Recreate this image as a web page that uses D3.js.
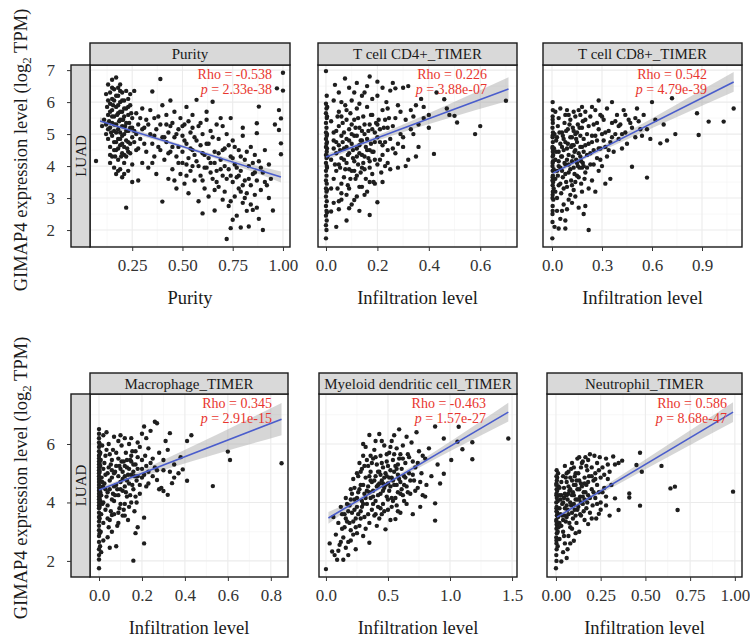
<!DOCTYPE html>
<html>
<head>
<meta charset="utf-8">
<script src="https://cdn.jsdelivr.net/npm/d3@7"></script>
<style>
body { margin: 0; background: #fff; }
svg { font-family: "Liberation Serif", "Times New Roman", serif; }
</style>
</head>
<body>
<div class="canvas"></div>
<script>
// ---- data ----
const panelNames = ['Purity', 'T cell CD4+_TIMER', 'T cell CD8+_TIMER',
                    'Macrophage_TIMER', 'Myeloid dendritic cell_TIMER', 'Neutrophil_TIMER'];
const rhoLabels = ['Rho = -0.538', 'Rho = 0.226', 'Rho = 0.542',
                   'Rho = 0.345', 'Rho = -0.463', 'Rho = 0.586'];
const pLabels = ['2.33e-38', '3.88e-07', '4.79e-39', '2.91e-15', '1.57e-27', '8.68e-47'];
const xTitles = ['Purity', 'Infiltration level', 'Infiltration level',
                 'Infiltration level', 'Infiltration level', 'Infiltration level'];
const xTicks = [[0.25, 0.5, 0.75, 1.0], [0, 0.2, 0.4, 0.6], [0, 0.3, 0.6, 0.9],
                [0, 0.2, 0.4, 0.6, 0.8], [0, 0.5, 1.0, 1.5], [0, 0.25, 0.5, 0.75, 1.0]];
const xTickFormats = ['.2f', '.1f', '.1f', '.1f', '.1f', '.2f'];
const xLimits = [[0.04, 1.035], [-0.031, 0.743], [-0.054, 1.14],
                 [-0.042, 0.88], [-0.056, 1.54], [-0.05, 1.04]];
const yTicksTop = [2, 3, 4, 5, 6, 7];
const yTicksBottom = [2, 4, 6];
const yLimitsTop = [1.47, 7.16];
const yLimitsBottom = [1.45, 7.71];
const cancerType = 'LUAD';

// fitted line ends and confidence band half widths
const fitX = [[0.09, 0.99], [0, 0.71], [0.006, 1.09], [0, 0.85], [0.02, 1.47], [0.006, 0.99]];
const fitY = [[5.41, 3.66], [4.28, 6.41], [3.78, 6.63], [4.43, 6.85], [3.47, 7.09], [3.5, 7.09]];
const bandX = [[0.09, 0.3, 0.5, 0.75, 0.99], [0, 0.1, 0.25, 0.45, 0.71], [0.006, 0.15, 0.4, 0.75, 1.09],
               [0, 0.08, 0.3, 0.55, 0.85], [0.02, 0.3, 0.48, 0.9, 1.47], [0.006, 0.1, 0.35, 0.65, 0.99]];
const bandHalf = [[0.12, 0.07, 0.05, 0.08, 0.17], [0.1, 0.07, 0.1, 0.2, 0.37], [0.08, 0.06, 0.1, 0.2, 0.31],
                  [0.08, 0.07, 0.17, 0.33, 0.55], [0.2, 0.08, 0.07, 0.14, 0.32], [0.08, 0.06, 0.12, 0.22, 0.34]];

const purityPts = [
[0.07,4.16],[0.10,5.25],[0.11,5.45],[0.12,6.25],[0.12,5.0],[0.13,6.55],[0.13,5.6],[0.13,4.85],[0.14,6.3],[0.14,5.95],
[0.14,5.2],[0.14,4.6],[0.15,6.7],[0.15,6.1],[0.15,5.75],[0.15,5.35],[0.15,4.95],[0.15,4.3],[0.16,6.4],[0.16,5.55],
[0.16,5.1],[0.16,4.75],[0.16,3.95],[0.17,6.77],[0.17,6.2],[0.17,5.85],[0.17,5.3],[0.17,4.5],[0.17,3.75],[0.18,6.45],
[0.18,5.65],[0.18,5.15],[0.18,4.85],[0.18,4.2],[0.19,6.55],[0.19,6.0],[0.19,5.45],[0.19,5.05],[0.19,4.65],[0.19,3.9],
[0.20,6.3],[0.20,5.7],[0.20,5.25],[0.20,4.95],[0.20,4.4],[0.20,3.65],[0.21,6.05],[0.21,5.55],[0.21,5.0],[0.21,4.6],
[0.21,4.1],[0.22,6.35],[0.22,5.8],[0.22,5.35],[0.22,4.8],[0.22,2.7],[0.23,6.1],[0.23,5.6],[0.23,5.1],[0.23,4.45],
[0.23,3.85],[0.24,5.9],[0.24,5.2],[0.24,4.7],[0.25,5.5],[0.25,4.05],[0.25,3.5],[0.125,5.85],[0.135,5.4],[0.145,5.05],
[0.155,5.9],[0.165,4.3],[0.175,5.6],[0.185,5.4],[0.195,4.3],[0.205,5.45],[0.215,5.25],[0.225,4.55],[0.235,5.35],[0.245,5.65],
[0.18,3.85],[0.21,3.75],[0.14,4.1],[0.26,6.35],[0.26,5.1],[0.27,5.65],[0.27,4.5],[0.28,3.55],[0.28,5.3],[0.29,4.85],
[0.30,5.8],[0.30,4.1],[0.31,5.2],[0.32,5.45],[0.32,4.45],[0.33,3.95],[0.34,5.0],[0.34,5.75],[0.35,6.33],[0.35,4.7],
[0.36,4.3],[0.36,5.5],[0.37,3.75],[0.37,5.15],[0.38,4.6],[0.39,6.72],[0.39,5.3],[0.40,2.89],[0.40,4.9],[0.40,5.9],
[0.41,4.2],[0.42,5.6],[0.42,4.75],[0.43,3.6],[0.43,5.05],[0.44,6.05],[0.44,4.45],[0.45,5.35],[0.45,3.9],[0.46,4.9],
[0.46,5.7],[0.47,4.3],[0.47,3.3],[0.48,5.15],[0.48,4.6],[0.49,5.5],[0.49,3.75],[0.50,4.95],[0.50,4.1],[0.51,5.3],
[0.51,3.45],[0.52,4.7],[0.52,5.85],[0.53,4.25],[0.53,3.15],[0.54,5.05],[0.54,3.85],[0.55,4.5],[0.55,5.6],[0.56,3.55],
[0.56,4.9],[0.57,6.07],[0.57,4.15],[0.58,2.9],[0.58,5.25],[0.59,4.65],[0.59,3.7],[0.60,2.52],[0.60,5.0],[0.61,4.35],
[0.61,3.3],[0.62,5.45],[0.62,3.95],[0.63,4.7],[0.63,3.05],[0.64,5.1],[0.64,4.1],[0.65,6.01],[0.65,3.6],[0.66,2.61],
[0.66,4.45],[0.67,5.3],[0.67,3.85],[0.68,4.85],[0.68,3.35],[0.69,4.2],[0.69,5.5],[0.70,3.7],[0.70,2.95],[0.71,4.55],
[0.71,3.2],[0.72,1.72],[0.72,5.0],[0.73,3.9],[0.73,2.75],[0.74,2.06],[0.74,4.3],[0.75,2.32],[0.75,3.5],[0.75,4.8],
[0.76,3.05],[0.76,4.05],[0.77,2.45],[0.77,3.65],[0.78,4.5],[0.78,3.3],[0.79,2.08],[0.79,3.85],[0.80,4.95],[0.80,2.85],
[0.81,3.55],[0.81,4.2],[0.82,2.6],[0.82,3.15],[0.83,2.11],[0.83,4.0],[0.84,3.4],[0.84,4.6],[0.85,2.63],[0.85,3.75],
[0.86,3.1],[0.86,4.35],[0.87,5.34],[0.87,5.03],[0.87,3.55],[0.88,5.86],[0.88,2.35],[0.88,4.15],[0.89,3.25],[0.90,2.0],
[0.90,3.8],[0.91,4.5],[0.92,3.4],[0.93,4.05],[0.94,3.6],[0.95,2.61],[0.96,5.3],[0.97,6.43],[0.98,5.75],[0.98,5.13],
[0.99,5.49],[0.99,4.71],[0.99,4.37],[1.0,6.92],[1.0,6.36],
[0.12,5.3],[0.13,5.15],[0.13,6.05],[0.14,5.7],[0.14,4.35],[0.15,5.55],[0.15,6.45],[0.16,5.3],[0.16,6.05],[0.16,4.5],
[0.17,5.05],[0.17,4.75],[0.18,6.2],[0.18,5.9],[0.18,4.55],[0.19,5.7],[0.19,4.85],[0.19,6.35],[0.2,6.05],[0.2,4.7],
[0.2,5.45],[0.21,5.8],[0.21,4.35],[0.22,5.1],[0.22,4.3],[0.23,5.85],[0.23,4.75],[0.24,4.4],[0.24,6.25],[0.25,4.9],
[0.25,5.2],[0.26,4.75],[0.27,5.0],[0.28,4.55],[0.29,5.5],[0.31,4.7],[0.33,5.3],[0.36,4.95],[0.38,5.55],[0.41,4.9],
[0.43,4.4],[0.44,5.25],[0.45,4.6],[0.47,5.0],[0.48,4.1],[0.5,5.25],[0.5,4.45],[0.51,4.8],[0.52,4.05],[0.53,5.4],
[0.54,4.55],[0.55,4.0],[0.56,4.35],[0.57,4.8],[0.58,4.0],[0.59,5.35],[0.6,4.4],[0.61,3.95],[0.62,4.7],[0.63,4.25],
[0.64,3.8],[0.65,4.9],[0.66,4.1],[0.67,3.5],[0.68,4.4],[0.69,3.9],[0.7,4.5],[0.71,4.0],[0.72,3.6],[0.73,4.65],
[0.74,3.7],[0.75,4.25],[0.76,4.6],[0.77,3.95],[0.78,3.7],[0.79,4.3],[0.8,3.4],[0.81,3.0],[0.82,4.45],[0.83,3.6],
[0.84,2.8],[0.85,4.1],[0.86,3.8],[0.87,2.7],[0.89,3.95],[0.91,3.5],[0.93,3.0],[0.46,3.55],[0.52,3.7],[0.6,3.55],
[0.66,3.25],[0.74,2.9],[0.79,3.2],[0.35,4.1],[0.39,4.5],[0.3,5.15],[0.42,5.3],[0.55,5.2],[0.62,5.7],[0.7,5.25],
[0.74,5.5],[0.8,5.2]
];

const cd4Pts = [
[0,6.97],[0.003,6.2],[0,5.95],[0.002,5.8],[0,5.65],[0.003,5.5],[0,5.35],[0.002,5.2],[0,5.05],[0.003,4.95],
[0,4.85],[0.002,4.7],[0,4.6],[0.003,4.45],[0,4.35],[0.002,4.25],[0,4.1],[0.003,4.0],[0,3.85],[0.002,3.7],
[0,3.55],[0.003,3.45],[0,3.3],[0.002,3.2],[0,3.05],[0.003,2.9],[0,2.75],[0.002,2.6],[0,2.45],[0.003,2.3],
[0,2.15],[0.002,2.0],[0,1.74],[0.004,5.0],[0.004,4.55],
[0.02,4.2],[0.02,5.4],[0.02,2.58],[0.03,3.6],[0.03,4.8],[0.03,6.05],[0.035,6.54],[0.04,2.1],[0.04,4.4],[0.04,5.1],
[0.045,3.3],[0.05,2.65],[0.05,4.65],[0.05,5.7],[0.055,3.95],[0.06,4.95],[0.06,4.25],[0.065,5.35],[0.07,3.65],[0.07,4.55],
[0.074,6.74],[0.075,5.9],[0.08,4.1],[0.08,4.85],[0.085,3.4],[0.09,2.68],[0.09,5.15],[0.09,4.4],[0.095,5.65],[0.10,4.7],
[0.10,3.85],[0.10,6.05],[0.105,4.25],[0.11,2.94],[0.11,5.45],[0.11,4.95],[0.115,3.6],[0.12,4.55],[0.12,5.8],[0.125,4.05],
[0.13,5.2],[0.13,3.35],[0.135,4.8],[0.14,6.2],[0.14,4.35],[0.145,5.55],[0.15,3.9],[0.15,5.0],[0.155,4.6],[0.16,5.85],
[0.16,3.2],[0.165,4.25],[0.17,6.8],[0.17,2.47],[0.17,5.3],[0.175,4.7],[0.18,3.75],[0.18,5.6],[0.185,4.45],[0.19,5.05],
[0.19,3.45],[0.2,6.64],[0.2,2.87],[0.2,4.9],[0.205,5.45],[0.21,4.2],[0.215,3.8],[0.22,5.75],[0.22,4.65],[0.225,5.2],
[0.23,4.0],[0.235,6.0],[0.24,4.5],[0.245,5.5],[0.25,6.36],[0.25,4.85],[0.26,5.25],[0.27,6.43],[0.27,4.4],[0.28,5.9],
[0.28,3.95],[0.29,5.0],[0.3,6.45],[0.3,4.6],[0.31,5.45],[0.32,4.2],[0.33,5.75],[0.34,5.0],[0.35,4.3],[0.35,5.9],
[0.36,5.3],[0.37,6.1],[0.38,5.5],[0.4,5.2],[0.42,4.38],[0.43,6.3],[0.46,6.09],[0.47,5.8],[0.48,5.6],[0.5,5.57],
[0.51,5.36],[0.58,5.0],[0.6,5.25],[0.7,6.04],
[0.03,4.55],[0.04,3.85],[0.05,5.25],[0.06,3.45],[0.07,5.05],[0.08,4.6],[0.08,3.1],[0.09,3.9],[0.1,5.3],[0.11,4.15],
[0.12,3.7],[0.12,4.95],[0.13,4.4],[0.14,3.95],[0.14,5.1],[0.15,4.3],[0.16,4.85],[0.17,3.95],[0.17,4.5],[0.18,5.15],
[0.19,4.2],[0.2,5.3],[0.21,4.75],[0.22,3.5],[0.23,5.45],[0.24,4.1],[0.06,2.95],[0.1,2.8],[0.13,2.6],[0.15,3.1],
[0.02,3.3],[0.05,6.3],[0.09,6.45],[0.12,6.6],[0.15,6.3],[0.18,6.1],[0.22,6.45],[0.26,6.6],[0.32,6.5],
[0.004,3.95],[0.004,4.75],[0.004,5.55],[0.004,3.25],[0.004,2.55],[0.005,5.85],[0.006,4.3],
[0.03,5.05],[0.035,4.05],[0.04,4.75],[0.045,5.55],[0.05,4.05],[0.055,4.5],[0.06,5.55],[0.065,4.75],[0.07,4.2],[0.075,3.9],
[0.08,5.45],[0.085,4.35],[0.09,4.8],[0.095,3.6],[0.1,5.0],[0.105,4.5],[0.11,3.85],[0.115,5.2],[0.12,4.3],[0.125,5.5],
[0.13,4.65],[0.135,3.8],[0.14,4.8],[0.145,4.1],[0.15,5.3],[0.155,3.6],[0.16,4.5],[0.165,5.1],[0.17,4.15],[0.175,5.6],
[0.18,4.45],[0.185,3.5],[0.19,4.75],[0.195,5.35],[0.2,4.05],[0.21,5.15],[0.22,4.35],[0.23,4.75],[0.24,5.2],[0.25,3.9],
[0.26,4.55],[0.27,5.5],[0.28,4.7],[0.29,5.7],[0.3,4.9],[0.31,4.0],[0.33,5.15],[0.34,5.55],[0.36,4.6],[0.38,5.85],
[0.4,5.6],[0.06,6.0],[0.08,5.75],[0.11,6.3],[0.13,5.95],[0.16,6.5],[0.2,6.2],[0.24,5.8],[0.06,3.15],[0.09,3.3],
[0.12,3.05],[0.14,3.35],[0.17,3.5],[0.05,2.9],[0.08,2.3],[0.03,2.85]
];

const cd8Pts = [
[0.002,1.74],[0.003,2.25],[0.003,2.5],[0.004,2.75],[0.003,3.0],[0.005,3.2],[0.004,3.4],[0.003,3.55],[0.005,3.7],[0.004,3.85],
[0.003,4.0],[0.006,4.15],[0.004,4.3],[0.005,4.45],[0.003,4.6],[0.005,4.75],[0.004,4.9],[0.006,5.05],[0.003,5.2],[0.005,5.35],
[0.004,5.55],[0.005,5.75],[0.004,6.0],[0.008,2.95],[0.01,3.3],[0.01,3.9],[0.012,4.55],[0.015,2.1],[0.015,5.0],
[0.02,3.6],[0.02,4.2],[0.025,4.8],[0.03,2.6],[0.03,3.85],[0.035,5.25],[0.04,2.05],[0.04,3.4],[0.04,4.45],[0.04,5.5],
[0.05,3.95],[0.05,4.7],[0.055,3.15],[0.06,5.05],[0.06,4.3],[0.065,3.65],[0.07,2.8],[0.07,4.85],[0.075,5.35],[0.08,2.3],
[0.08,4.05],[0.08,5.6],[0.085,3.5],[0.09,4.55],[0.095,5.15],[0.1,3.8],[0.1,4.35],[0.1,2.95],[0.11,4.9],[0.11,5.45],
[0.115,3.55],[0.12,4.15],[0.12,4.65],[0.125,5.2],[0.13,3.25],[0.13,3.95],[0.135,4.45],[0.14,5.0],[0.14,5.55],[0.145,4.2],
[0.15,3.7],[0.15,4.75],[0.155,5.3],[0.16,2.7],[0.16,4.4],[0.165,3.95],[0.17,4.95],[0.17,5.6],[0.175,3.45],[0.18,4.6],
[0.18,5.2],[0.185,4.1],[0.19,2.5],[0.19,4.85],[0.2,2.75],[0.2,3.8],[0.2,5.45],[0.21,4.35],[0.21,5.0],[0.22,2.0],
[0.22,3.3],[0.22,4.7],[0.23,5.55],[0.23,4.05],[0.24,3.55],[0.24,4.95],[0.25,5.3],[0.25,4.5],[0.26,3.2],[0.26,5.75],
[0.27,4.25],[0.27,4.8],[0.28,5.15],[0.28,3.85],[0.29,5.6],[0.29,4.55],[0.3,4.0],[0.3,5.0],[0.31,5.45],[0.32,4.6],
[0.32,3.45],[0.33,5.8],[0.33,4.3],[0.34,5.1],[0.35,4.75],[0.35,3.6],[0.36,6.0],[0.36,5.35],[0.37,4.45],[0.38,5.0],
[0.39,5.6],[0.4,4.85],[0.41,5.3],[0.42,4.55],[0.43,5.75],[0.44,5.05],[0.45,4.7],[0.46,5.45],[0.48,3.98],[0.48,5.2],
[0.5,4.9],[0.51,5.8],[0.52,5.4],[0.54,4.95],[0.55,5.6],[0.57,3.64],[0.57,5.15],[0.59,4.85],[0.6,6.0],[0.62,5.45],
[0.65,4.71],[0.67,5.3],[0.69,4.8],[0.72,6.12],[0.74,5.0],[0.87,5.65],[0.88,4.97],[0.94,5.39],[1.03,5.39],[1.09,5.8],
[0.06,4.6],[0.09,4.2],[0.12,4.9],[0.15,4.1],[0.17,4.3],[0.04,4.0],[0.07,3.3],[0.11,3.1],[0.13,4.65],[0.19,4.0],
[0.08,4.75],[0.14,3.5],[0.02,5.7],[0.05,5.8],[0.09,5.75],[0.18,5.85],[0.24,5.85],[0.28,6.05],[0.05,2.35],[0.08,2.05],
[0.004,3.1],[0.004,3.65],[0.004,4.1],[0.004,4.55],[0.004,4.95],[0.004,5.45],[0.004,2.6],[0.007,3.5],[0.007,4.35],
[0.02,3.2],[0.025,4.45],[0.03,4.9],[0.035,3.7],[0.04,4.15],[0.045,5.05],[0.05,3.45],[0.055,4.3],[0.06,3.85],[0.065,4.95],
[0.07,4.5],[0.075,4.1],[0.08,3.75],[0.085,5.1],[0.09,3.35],[0.095,4.7],[0.1,4.05],[0.105,5.3],[0.11,3.9],[0.115,4.6],
[0.12,3.4],[0.125,4.3],[0.13,5.1],[0.135,3.75],[0.14,4.5],[0.145,4.85],[0.15,5.05],[0.155,4.0],[0.16,3.65],[0.165,5.2],
[0.17,4.6],[0.175,4.15],[0.18,3.95],[0.185,5.4],[0.19,4.45],[0.195,3.6],[0.2,4.65],[0.21,3.95],[0.22,5.25],[0.23,4.4],
[0.24,4.75],[0.25,4.05],[0.26,4.95],[0.27,5.35],[0.28,4.55],[0.29,4.2],[0.3,5.55],[0.31,4.8],[0.32,5.05],[0.34,4.5],
[0.36,4.9],[0.38,5.4],[0.4,5.25],[0.42,5.0],[0.44,5.6],[0.47,5.35],[0.5,5.5],[0.53,5.15],[0.03,3.0],[0.06,2.6],
[0.09,2.65],[0.12,2.85],[0.14,3.05],[0.18,3.2],[0.1,5.6],[0.13,5.7],[0.16,5.75],[0.2,5.7]
];

const macroPts = [
[0,1.75],[0,2.05],[0,2.2],[0,2.4],[0,2.65],[0,2.85],[0,3.05],[0,3.2],[0,3.35],[0,3.5],
[0,3.65],[0,3.8],[0,3.9],[0,4.0],[0,4.1],[0,4.2],[0,4.3],[0,4.4],[0,4.5],[0,4.6],
[0,4.7],[0,4.8],[0,4.9],[0,5.0],[0,5.1],[0,5.2],[0,5.3],[0,5.4],[0,5.5],[0,5.6],
[0,5.75],[0,5.9],[0,6.05],[0,6.2],[0,6.35],[0,6.51],
[0.005,2.5],[0.008,3.0],[0.01,3.6],[0.01,4.25],[0.012,4.85],[0.008,5.45],[0.015,5.95],[0.01,2.3],[0.015,3.95],[0.018,4.55],
[0.02,5.15],[0.02,3.3],[0.006,5.7],[0.006,4.05],
[0.025,4.65],[0.03,3.75],[0.03,5.6],[0.035,4.2],[0.04,2.81],[0.04,5.0],[0.045,6.0],[0.05,4.45],[0.05,3.4],[0.055,5.3],
[0.06,3.57],[0.06,4.85],[0.065,5.8],[0.07,4.05],[0.07,6.25],[0.075,5.05],[0.08,2.5],[0.08,4.6],[0.085,3.2],[0.09,5.5],
[0.09,4.25],[0.095,3.8],[0.1,5.15],[0.1,4.7],[0.105,5.95],[0.11,3.55],[0.11,4.4],[0.115,5.4],[0.12,4.9],[0.12,3.95],
[0.125,5.7],[0.13,4.2],[0.13,5.2],[0.135,3.4],[0.14,4.65],[0.14,6.0],[0.145,5.45],[0.15,4.0],[0.15,4.95],[0.155,5.75],
[0.16,2.01],[0.16,4.45],[0.165,3.7],[0.17,2.95],[0.17,5.3],[0.175,4.75],[0.18,5.55],[0.18,3.15],[0.19,4.3],[0.19,5.9],
[0.2,4.85],[0.2,5.15],[0.21,2.6],[0.21,3.48],[0.21,6.6],[0.215,5.6],[0.22,4.55],[0.22,6.2],[0.23,5.05],[0.24,6.45],
[0.24,5.35],[0.25,4.9],[0.26,6.76],[0.26,5.2],[0.27,6.71],[0.27,4.77],[0.28,5.7],[0.29,4.5],[0.3,4.39],[0.3,5.45],
[0.31,6.1],[0.32,4.26],[0.32,5.8],[0.33,6.37],[0.34,4.66],[0.35,5.3],[0.37,5.0],[0.38,5.55],[0.39,5.13],[0.41,4.74],
[0.41,6.1],[0.43,6.3],[0.53,4.56],[0.6,5.74],[0.61,5.45],[0.85,5.34],
[0.03,4.95],[0.04,4.35],[0.05,5.65],[0.06,4.1],[0.07,4.55],[0.08,5.25],[0.09,4.9],[0.1,3.95],[0.11,5.05],[0.12,4.55],
[0.13,4.75],[0.14,5.15],[0.15,5.4],[0.16,5.05],[0.17,4.2],[0.18,4.9],[0.06,5.1],[0.045,3.15],[0.07,3.6],[0.12,6.2],
[0.02,6.3],[0.035,6.4],[0.09,6.1],
[0.003,2.95],[0.003,3.45],[0.003,3.85],[0.003,4.15],[0.003,4.45],[0.003,4.75],[0.003,5.05],[0.003,5.35],[0.003,5.65],[0.003,6.0],
[0.006,4.35],[0.006,5.25],
[0.015,4.7],[0.02,4.0],[0.025,5.35],[0.03,4.45],[0.035,5.8],[0.04,3.9],[0.045,5.2],[0.05,4.75],[0.055,3.7],[0.06,5.45],
[0.065,4.3],[0.07,5.0],[0.075,4.25],[0.08,5.7],[0.085,4.45],[0.09,3.65],[0.095,5.25],[0.1,4.45],[0.105,5.4],[0.11,4.8],
[0.115,3.75],[0.12,5.25],[0.125,4.35],[0.13,5.45],[0.135,4.95],[0.14,3.85],[0.145,4.25],[0.15,5.6],[0.155,4.6],[0.16,5.3],
[0.165,4.9],[0.17,5.75],[0.175,4.0],[0.18,5.15],[0.19,4.6],[0.2,5.45],[0.21,4.95],[0.22,5.25],[0.23,4.65],[0.25,5.5],
[0.27,5.1],[0.28,4.45],[0.3,5.1],[0.33,5.05],[0.35,4.85],[0.04,3.45],[0.06,3.0],[0.09,3.3],[0.12,3.55],[0.02,2.7],
[0.05,2.45],[0.1,6.3],[0.15,6.2],[0.18,6.05],[0.2,6.35],[0.23,5.85]
];

const mdcPts = [
[0.0,1.72],[0.03,2.6],[0.05,2.32],[0.09,2.04],[0.14,2.04],[0.18,2.2],[0.24,2.4],[0.35,2.62],[0.06,3.5],[0.08,2.9],
[0.1,3.3],[0.11,2.55],[0.12,3.85],[0.13,3.1],[0.14,2.8],[0.15,3.6],[0.16,4.15],[0.17,3.35],[0.18,2.65],[0.19,3.9],
[0.2,4.45],[0.2,3.05],[0.21,3.65],[0.22,4.8],[0.22,2.9],[0.23,4.1],[0.24,3.45],[0.25,5.0],[0.25,3.85],[0.26,4.35],
[0.27,3.2],[0.27,5.35],[0.28,4.6],[0.28,3.7],[0.29,4.05],[0.3,5.6],[0.3,2.85],[0.31,4.3],[0.31,3.5],[0.32,4.85],
[0.32,5.9],[0.33,3.95],[0.34,4.55],[0.34,5.25],[0.35,6.31],[0.35,3.3],[0.36,4.15],[0.36,5.05],[0.37,3.75],[0.37,4.7],
[0.38,5.5],[0.38,4.4],[0.39,3.55],[0.39,5.8],[0.4,4.9],[0.4,4.05],[0.41,3.2],[0.41,5.3],[0.42,4.6],[0.42,3.85],
[0.43,6.34],[0.43,5.05],[0.44,4.3],[0.44,5.6],[0.45,3.6],[0.45,4.75],[0.46,5.2],[0.46,3.95],[0.47,4.5],[0.47,5.95],
[0.48,3.08],[0.48,5.0],[0.49,4.2],[0.49,5.4],[0.5,4.65],[0.5,3.75],[0.51,5.7],[0.51,4.4],[0.52,5.1],[0.52,3.4],
[0.53,4.85],[0.53,6.1],[0.54,4.05],[0.54,5.45],[0.55,4.6],[0.56,3.43],[0.56,5.25],[0.57,3.9],[0.57,5.85],[0.58,4.35],
[0.58,4.95],[0.59,6.5],[0.59,5.5],[0.6,4.7],[0.6,3.65],[0.61,5.15],[0.62,4.25],[0.62,5.95],[0.63,4.9],[0.64,5.35],
[0.65,3.95],[0.65,4.55],[0.66,5.65],[0.67,5.0],[0.68,4.3],[0.69,6.05],[0.7,5.4],[0.7,3.6],[0.71,4.75],[0.72,5.2],
[0.73,6.4],[0.74,4.5],[0.75,5.75],[0.76,3.85],[0.77,5.0],[0.78,4.25],[0.8,5.5],[0.81,4.6],[0.83,5.85],[0.85,4.9],
[0.88,6.6],[0.88,3.38],[0.88,3.97],[0.9,5.3],[0.92,4.65],[0.95,6.19],[0.95,4.98],[1.01,5.45],[1.06,6.08],[1.07,6.59],
[1.1,5.82],[1.18,5.48],[1.18,6.06],[1.47,6.19],
[0.26,4.9],[0.29,5.15],[0.3,3.95],[0.33,4.4],[0.35,4.9],[0.36,5.6],[0.38,3.95],[0.4,5.55],[0.42,4.25],[0.43,4.65],
[0.44,3.8],[0.46,4.4],[0.47,4.85],[0.49,4.9],[0.5,5.25],[0.52,4.55],[0.53,4.15],[0.55,5.05],[0.57,4.6],[0.58,5.3],
[0.6,4.3],[0.63,4.6],[0.2,4.1],[0.23,3.75],[0.17,3.95],[0.15,3.15],[0.28,3.45],[0.32,3.1],[0.45,6.1],[0.65,6.25],
[0.55,6.3],[0.4,6.1],[0.3,6.0],
[0.21,4.3],[0.23,4.5],[0.24,3.15],[0.25,4.15],[0.26,3.6],[0.27,4.45],[0.28,5.05],[0.29,3.85],[0.3,4.6],[0.31,5.25],
[0.32,4.15],[0.33,5.45],[0.34,3.6],[0.35,4.35],[0.36,4.75],[0.37,5.35],[0.38,4.2],[0.39,4.75],[0.4,3.6],[0.41,4.55],
[0.42,5.05],[0.43,3.45],[0.44,4.95],[0.45,5.35],[0.46,4.65],[0.47,3.7],[0.48,4.6],[0.49,5.65],[0.5,4.1],[0.51,4.85],
[0.52,5.9],[0.53,3.85],[0.54,4.75],[0.55,5.65],[0.56,4.15],[0.57,5.15],[0.58,3.7],[0.59,4.8],[0.6,5.65],[0.61,4.45],
[0.62,5.5],[0.63,4.05],[0.64,4.85],[0.66,4.35],[0.67,5.55],[0.68,4.75],[0.7,4.95],[0.72,4.4],[0.74,5.35],[0.76,4.7],
[0.78,5.6],[0.8,4.2],[0.13,3.6],[0.16,3.45],[0.18,3.7],[0.19,3.3],[0.22,3.35],[0.25,2.95],[0.12,2.65],[0.16,2.45],
[0.2,2.7],[0.07,2.2],[0.1,2.35]
];

const neutroPts = [
[0,1.75],[0.003,2.0],[0.002,2.2],[0.004,2.4],[0.003,2.6],[0.002,2.8],[0.005,2.95],[0.003,3.1],[0.004,3.25],[0.002,3.4],
[0.005,3.55],[0.003,3.7],[0.004,3.85],[0.002,4.0],[0.005,4.15],[0.003,4.3],[0.004,4.45],[0.002,4.6],[0.005,4.75],[0.003,4.9],
[0.004,5.1],[0.01,2.5],[0.01,3.0],[0.012,3.5],[0.01,4.05],[0.015,4.55],[0.012,5.0],[0.02,2.75],[0.02,3.3],[0.02,3.8],
[0.03,1.98],[0.03,4.25],[0.035,3.55],[0.04,4.9],[0.04,3.0],[0.045,4.5],[0.05,3.8],[0.05,5.25],[0.055,3.35],[0.06,4.7],
[0.065,2.4],[0.065,4.1],[0.07,3.6],[0.07,5.05],[0.075,4.4],[0.08,3.15],[0.08,4.85],[0.085,3.9],[0.09,5.35],[0.09,4.25],
[0.095,3.45],[0.1,2.69],[0.1,4.6],[0.105,3.75],[0.11,5.0],[0.11,4.1],[0.115,3.3],[0.12,4.45],[0.12,5.5],[0.125,3.85],
[0.13,3.0],[0.13,4.75],[0.135,4.2],[0.14,5.2],[0.14,3.55],[0.145,4.55],[0.15,3.95],[0.15,5.4],[0.155,4.35],[0.16,3.4],
[0.16,4.85],[0.165,5.55],[0.17,3.8],[0.17,4.6],[0.175,5.1],[0.18,3.26],[0.18,5.45],[0.18,4.25],[0.185,4.9],[0.19,3.65],
[0.19,5.65],[0.2,4.45],[0.2,5.2],[0.205,3.9],[0.21,4.75],[0.215,5.6],[0.22,4.15],[0.22,5.0],[0.225,3.45],[0.23,4.6],
[0.23,5.35],[0.24,3.61],[0.24,4.35],[0.245,5.55],[0.25,4.85],[0.25,4.0],[0.26,5.2],[0.27,4.5],[0.28,5.5],[0.28,4.2],
[0.29,4.8],[0.3,3.55],[0.3,5.05],[0.31,4.6],[0.32,5.57],[0.33,4.14],[0.33,5.3],[0.35,3.74],[0.35,5.35],[0.37,5.43],
[0.41,4.31],[0.41,4.17],[0.45,5.28],[0.47,5.7],[0.47,3.89],[0.48,5.05],[0.59,5.25],[0.64,4.48],[0.665,4.54],[0.68,3.74],
[0.99,4.37],
[0.04,4.0],[0.05,4.3],[0.06,3.5],[0.07,4.3],[0.08,4.0],[0.09,4.75],[0.1,3.95],[0.11,4.6],[0.12,4.1],[0.13,4.45],
[0.06,3.9],[0.02,4.5],[0.025,4.1],[0.03,3.2],[0.045,2.85],[0.08,2.6],[0.14,4.0],[0.16,4.1],[0.1,5.2],[0.06,5.0],
[0.13,5.55],
[0.003,3.35],[0.003,3.8],[0.003,4.25],[0.003,4.65],[0.003,2.7],[0.007,3.2],[0.007,3.65],[0.007,4.4],[0.007,4.85],
[0.015,3.15],[0.02,4.25],[0.025,3.6],[0.03,4.7],[0.035,3.95],[0.04,3.4],[0.045,4.15],[0.05,3.55],[0.055,4.85],[0.06,4.25],
[0.065,3.75],[0.07,4.55],[0.075,3.3],[0.08,4.45],[0.085,5.15],[0.09,3.65],[0.095,4.35],[0.1,4.25],[0.105,4.9],[0.11,3.55],
[0.115,4.75],[0.12,3.75],[0.125,5.0],[0.13,4.1],[0.135,3.6],[0.14,4.65],[0.145,5.35],[0.15,4.2],[0.155,3.7],[0.16,4.65],
[0.165,4.35],[0.17,5.25],[0.175,4.0],[0.18,4.7],[0.19,4.15],[0.2,4.9],[0.21,4.35],[0.22,4.8],[0.23,3.95],[0.24,5.1],
[0.26,4.35],[0.27,4.95],[0.29,5.3],[0.05,2.6],[0.07,2.85],[0.09,3.1],[0.11,2.95],[0.04,2.3],[0.06,2.1],[0.2,3.45],
[0.25,3.75],[0.28,3.9]
];

const panelPoints = [purityPts, cd4Pts, cd8Pts, macroPts, mdcPts, neutroPts];

// ---- layout (pixels) ----
const W = 750, H = 644;
const layout = [
  { x0: 90,  x1: 290, top: 43,  y0: 65,  y1: 247, rhoRight: 272, row: 0 },
  { x0: 318, x1: 517, top: 43,  y0: 65,  y1: 247, rhoRight: 487, row: 0 },
  { x0: 543, x1: 742, top: 43,  y0: 65,  y1: 247, rhoRight: 707, row: 0 },
  { x0: 90,  x1: 288, top: 373, y0: 394, y1: 577, rhoRight: 272, row: 1 },
  { x0: 319, x1: 517, top: 373, y0: 394, y1: 577, rhoRight: 486, row: 1 },
  { x0: 547, x1: 742, top: 373, y0: 394, y1: 577, rhoRight: 727, row: 1 }
];
const luadX = 71;
const serif = '"Liberation Serif", "Times New Roman", serif';

const svg = d3.select('.canvas')
  .append('svg')
  .attr('width', W)
  .attr('height', H);

svg.append('rect').attr('width', W).attr('height', H).attr('fill', '#fff');

// minor grid positions: halfway between major ticks
const midpoints = (ticks, domain) => {
  const step = ticks[1] - ticks[0];
  const out = [];
  for (let v = ticks[0] - step / 2; v <= domain[1]; v += step) {
    if (v >= domain[0]) out.push(v);
  }
  return out;
};

panelNames.forEach((name, i) => {
  const L = layout[i];
  const yDom = L.row === 0 ? yLimitsTop : yLimitsBottom;
  const yTicks = L.row === 0 ? yTicksTop : yTicksBottom;

  const x = d3.scaleLinear().domain(xLimits[i]).range([L.x0, L.x1]);
  const y = d3.scaleLinear().domain(yDom).range([L.y1, L.y0]);

  const g = svg.append('g');

  svg.append('clipPath').attr('id', 'clip' + i)
    .append('rect')
    .attr('x', L.x0).attr('y', L.y0)
    .attr('width', L.x1 - L.x0).attr('height', L.y1 - L.y0);

  // grid: minor then major
  const grid = g.append('g');
  midpoints(xTicks[i], xLimits[i]).forEach(v => {
    grid.append('line').attr('x1', x(v)).attr('x2', x(v)).attr('y1', L.y0).attr('y2', L.y1)
      .attr('stroke', '#f4f4f4').attr('stroke-width', 0.6);
  });
  midpoints(yTicks, yDom).forEach(v => {
    grid.append('line').attr('y1', y(v)).attr('y2', y(v)).attr('x1', L.x0).attr('x2', L.x1)
      .attr('stroke', '#f4f4f4').attr('stroke-width', 0.6);
  });
  xTicks[i].forEach(v => {
    grid.append('line').attr('x1', x(v)).attr('x2', x(v)).attr('y1', L.y0).attr('y2', L.y1)
      .attr('stroke', '#ebebeb').attr('stroke-width', 1.1);
  });
  yTicks.forEach(v => {
    grid.append('line').attr('y1', y(v)).attr('y2', y(v)).attr('x1', L.x0).attr('x2', L.x1)
      .attr('stroke', '#ebebeb').attr('stroke-width', 1.1);
  });

  const plot = g.append('g').attr('clip-path', `url(#clip${i})`);

  // confidence band around the fitted line
  const lineY = d3.scaleLinear().domain(fitX[i]).range(fitY[i]);
  const bandData = bandX[i].map((bx, k) => ({ x: bx, lo: lineY(bx) - bandHalf[i][k], hi: lineY(bx) + bandHalf[i][k] }));
  const area = d3.area()
    .x(d => x(d.x))
    .y0(d => y(d.lo))
    .y1(d => y(d.hi))
    .curve(d3.curveMonotoneX);
  plot.append('path').attr('d', area(bandData))
    .attr('fill', '#999').attr('opacity', 0.4);

  // points
  plot.selectAll('circle')
    .data(panelPoints[i])
    .enter().append('circle')
    .attr('cx', d => x(d[0]))
    .attr('cy', d => y(d[1]))
    .attr('r', 2.2)
    .attr('fill', '#1e1e1e');

  // fitted line
  plot.append('line')
    .attr('x1', x(fitX[i][0])).attr('y1', y(fitY[i][0]))
    .attr('x2', x(fitX[i][1])).attr('y2', y(fitY[i][1]))
    .attr('stroke', '#4a5dcc').attr('stroke-width', 1.6);

  // panel border
  g.append('rect')
    .attr('x', L.x0).attr('y', L.y0)
    .attr('width', L.x1 - L.x0).attr('height', L.y1 - L.y0)
    .attr('fill', 'none').attr('stroke', '#1a1a1a').attr('stroke-width', 1.4);

  // strip on top
  g.append('rect')
    .attr('x', L.x0).attr('y', L.top)
    .attr('width', L.x1 - L.x0).attr('height', L.y0 - L.top)
    .attr('fill', '#d9d9d9').attr('stroke', '#1a1a1a').attr('stroke-width', 1.4);
  g.append('text')
    .attr('x', (L.x0 + L.x1) / 2).attr('y', (L.top + L.y0) / 2 + 5)
    .attr('text-anchor', 'middle')
    .attr('font-size', 15).attr('fill', '#1a1a1a')
    .text(name);

  // rho / p annotation
  g.append('text')
    .attr('x', L.rhoRight).attr('y', L.y0 + 13.5)
    .attr('text-anchor', 'end').attr('font-size', 14).attr('fill', '#e8352e')
    .text(rhoLabels[i]);
  const pt = g.append('text')
    .attr('x', L.rhoRight).attr('y', L.y0 + 29)
    .attr('text-anchor', 'end').attr('font-size', 14).attr('fill', '#e8352e');
  pt.append('tspan').attr('font-style', 'italic').text('p');
  pt.append('tspan').text(' = ' + pLabels[i]);

  // x axis
  const xAxis = d3.axisBottom(x)
    .tickValues(xTicks[i])
    .tickFormat(d3.format(xTickFormats[i]))
    .tickSize(4)
    .tickPadding(8);
  const xa = g.append('g').attr('transform', `translate(0, ${L.y1})`).call(xAxis);
  xa.select('.domain').remove();
  xa.selectAll('line').attr('stroke', '#333');
  xa.selectAll('text').attr('font-size', 17).attr('fill', '#333').attr('font-family', serif);

  g.append('text')
    .attr('x', (L.x0 + L.x1) / 2).attr('y', L.y1 + 57)
    .attr('text-anchor', 'middle').attr('font-size', 18.5).attr('fill', '#1a1a1a')
    .text(xTitles[i]);

  // left column: LUAD strip, y axis, y title
  if (i % 3 === 0) {
    g.append('rect')
      .attr('x', luadX).attr('y', L.y0)
      .attr('width', L.x0 - luadX).attr('height', L.y1 - L.y0)
      .attr('fill', '#d9d9d9').attr('stroke', '#1a1a1a').attr('stroke-width', 1.4);
    g.append('text')
      .attr('transform', `translate(${(luadX + L.x0) / 2 + 5}, ${(L.y0 + L.y1) / 2}) rotate(-90)`)
      .attr('text-anchor', 'middle').attr('font-size', 15).attr('fill', '#1a1a1a')
      .text(cancerType);

    const yAxis = d3.axisLeft(y).tickValues(yTicks).tickFormat(d3.format('d'))
      .tickSize(4).tickPadding(12);
    const ya = g.append('g').attr('transform', `translate(${luadX}, 0)`).call(yAxis);
    ya.select('.domain').remove();
    ya.selectAll('line').attr('stroke', '#333');
    ya.selectAll('text').attr('font-size', 17).attr('fill', '#333').attr('font-family', serif);

    const cy = L.row === 0 ? 150 : 478;
    const yt = g.append('text')
      .attr('transform', `translate(27, ${cy}) rotate(-90)`)
      .attr('text-anchor', 'middle').attr('font-size', 18.5).attr('fill', '#1a1a1a');
    yt.append('tspan').text('GIMAP4 expression level (log');
    yt.append('tspan').attr('font-size', 13).attr('dy', 4).text('2');
    yt.append('tspan').attr('dy', -4).text(' TPM)');
  }
});
</script>
</body>
</html>
